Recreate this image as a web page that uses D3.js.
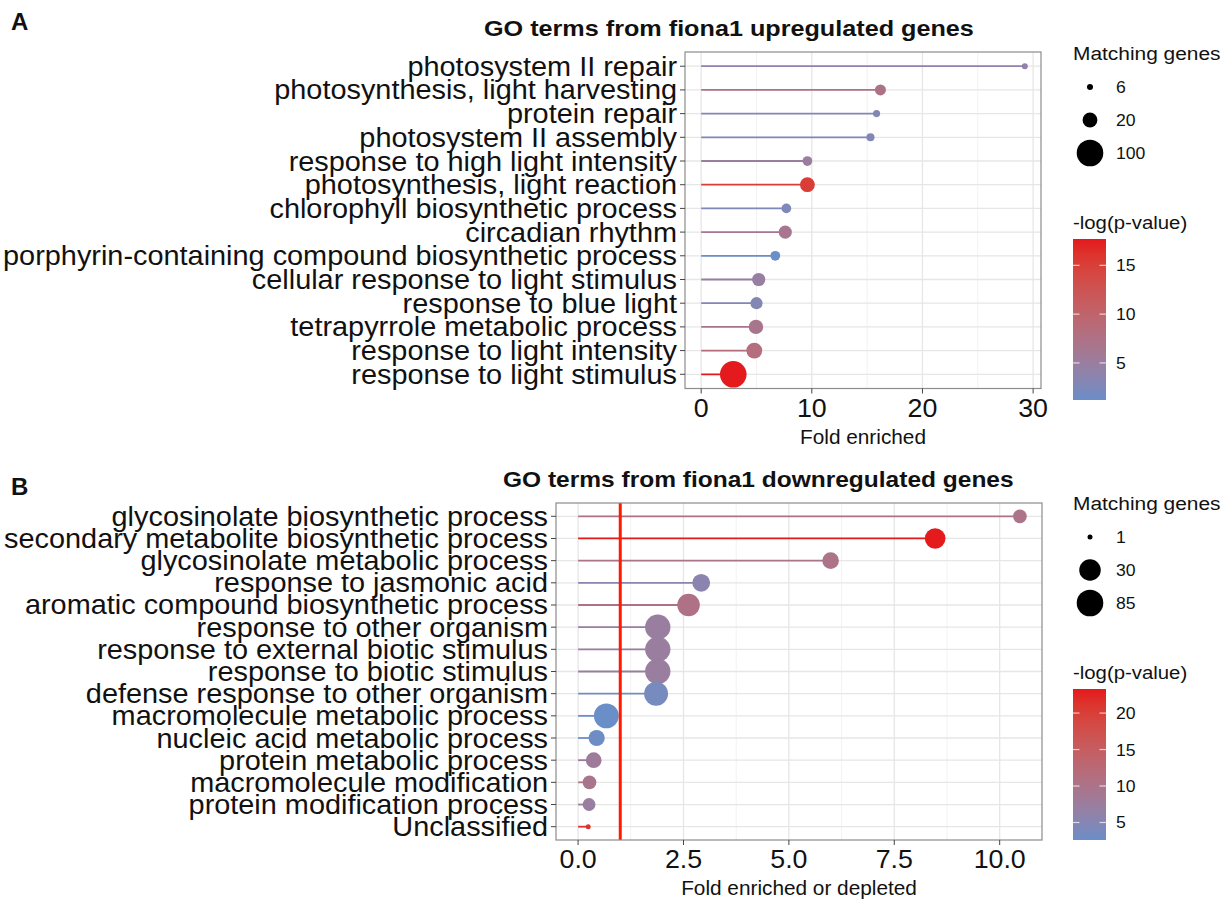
<!DOCTYPE html>
<html>
<head>
<meta charset="utf-8">
<script src="https://cdn.jsdelivr.net/npm/d3@7"></script>
<style>
  body { margin: 0; background: #fff; }
  text { font-family: "Liberation Sans", Arial, sans-serif; fill: #111; }
</style>
</head>
<body>
<div id="chart"></div>
<script>
// ---- panel A: upregulated ----
const upTerms = [
  'photosystem II repair',
  'photosynthesis, light harvesting',
  'protein repair',
  'photosystem II assembly',
  'response to high light intensity',
  'photosynthesis, light reaction',
  'chlorophyll biosynthetic process',
  'circadian rhythm',
  'porphyrin-containing compound biosynthetic process',
  'cellular response to light stimulus',
  'response to blue light',
  'tetrapyrrole metabolic process',
  'response to light intensity',
  'response to light stimulus',
];
const upFold = [29.25, 16.2, 15.85, 15.3, 9.6, 9.6, 7.7, 7.6, 6.7, 5.2, 5.0, 4.95, 4.8, 2.9];
const upGenes = [6, 12, 7, 8, 10, 20, 10, 16, 10, 16, 14, 19, 23, 100];
const upLogP = [4.0, 7.2, 2.8, 2.8, 5.0, 15.2, 2.5, 6.6, 1.2, 4.6, 3.0, 6.8, 8.2, 17.7];
const upXTicks = [0, 10, 20, 30];
const upSizeBreaks = [6, 20, 100];
const upColorBreaks = [5, 10, 15];

// ---- panel B: downregulated ----
const downTerms = [
  'glycosinolate biosynthetic process',
  'secondary metabolite biosynthetic process',
  'glycosinolate metabolic process',
  'response to jasmonic acid',
  'aromatic compound biosynthetic process',
  'response to other organism',
  'response to external biotic stimulus',
  'response to biotic stimulus',
  'defense response to other organism',
  'macromolecule metabolic process',
  'nucleic acid metabolic process',
  'protein metabolic process',
  'macromolecule modification',
  'protein modification process',
  'Unclassified',
];
const downFold = [10.48, 8.47, 5.99, 2.92, 2.62, 1.89, 1.89, 1.89, 1.85, 0.67, 0.44, 0.37, 0.27, 0.26, 0.24];
const downGenes = [6, 25, 11, 14, 37, 65, 65, 65, 49, 60, 10, 9, 6, 5, 1];
const downLogP = [10, 23.3, 10, 5.5, 10.5, 7.3, 7.3, 7.3, 3.6, 2.6, 3.0, 8, 9.5, 7.3, 21.2];
const downXTicks = [0, 2.5, 5, 7.5, 10];
const downSizeBreaks = [1, 30, 85];
const downColorBreaks = [5, 10, 15, 20];

const size = { width: 1231, height: 899 };
const lowCol = '#6a8ec8';
const highCol = '#e41a1c';

const svg = d3
  .select('#chart')
  .append('svg')
  .attr('width', size.width)
  .attr('height', size.height);

// glyphs in the source are a little wider than Liberation Sans, so stretch x
const addText = (g, x, y, str, fs, sx, anchor = 'start', weight = 'normal') =>
  g
    .append('text')
    .attr('transform', `translate(${x},${y}) scale(${sx},1)`)
    .attr('font-size', fs)
    .attr('font-weight', weight)
    .attr('text-anchor', anchor)
    .text(str);

const drawPanel = (cfg) => {
  const box = cfg.box;
  const data = cfg.terms.map((t, i) => ({
    term: t,
    fold: cfg.fold[i],
    genes: cfg.genes[i],
    logp: cfg.logp[i],
  }));
  const xMax = d3.max(cfg.fold);
  const x = d3
    .scaleLinear()
    .domain([-xMax * 0.05, xMax * 1.05])
    .range([box.left, box.right]);
  const y = d3
    .scalePoint()
    .domain(cfg.terms)
    .range([box.top, box.bottom])
    .padding(0.6);
  const r = d3.scaleLog().domain(cfg.sizeDomain).range(cfg.sizeRange);
  const cExt = d3.extent(cfg.logp);
  const col = d3
    .scaleLinear()
    .domain(cExt)
    .range([lowCol, highCol])
    .interpolate(d3.interpolateLab);

  const g = svg.append('g');

  // grid
  const step = cfg.xTicks[1] - cfg.xTicks[0];
  const minor = cfg.xTicks
    .map((d) => d + step / 2)
    .concat([cfg.xTicks[0] - step / 2])
    .filter((d) => x(d) > box.left && x(d) < box.right);
  g.selectAll('.minor')
    .data(minor)
    .enter()
    .append('line')
    .attr('x1', (d) => x(d))
    .attr('x2', (d) => x(d))
    .attr('y1', box.top)
    .attr('y2', box.bottom)
    .attr('stroke', '#f2f2f2')
    .attr('stroke-width', 1);
  g.selectAll('.major')
    .data(cfg.xTicks)
    .enter()
    .append('line')
    .attr('x1', (d) => x(d))
    .attr('x2', (d) => x(d))
    .attr('y1', box.top)
    .attr('y2', box.bottom)
    .attr('stroke', '#e6e6e6')
    .attr('stroke-width', 1.3);
  g.selectAll('.ygrid')
    .data(cfg.terms)
    .enter()
    .append('line')
    .attr('x1', box.left)
    .attr('x2', box.right)
    .attr('y1', (d) => y(d))
    .attr('y2', (d) => y(d))
    .attr('stroke', '#e6e6e6')
    .attr('stroke-width', 1.3);

  // lollipops
  g.selectAll('.seg')
    .data(data)
    .enter()
    .append('line')
    .attr('x1', x(0))
    .attr('x2', (d) => x(d.fold))
    .attr('y1', (d) => y(d.term))
    .attr('y2', (d) => y(d.term))
    .attr('stroke', (d) => col(d.logp))
    .attr('stroke-width', 1.8);
  g.selectAll('.dot')
    .data(data)
    .enter()
    .append('circle')
    .attr('cx', (d) => x(d.fold))
    .attr('cy', (d) => y(d.term))
    .attr('r', (d) => r(d.genes))
    .attr('fill', (d) => col(d.logp));

  if (cfg.vline !== undefined) {
    g.append('line')
      .attr('x1', x(cfg.vline))
      .attr('x2', x(cfg.vline))
      .attr('y1', box.top)
      .attr('y2', box.bottom)
      .attr('stroke', '#ff1a00')
      .attr('stroke-width', 3);
  }

  g.append('rect')
    .attr('x', box.left)
    .attr('y', box.top)
    .attr('width', box.right - box.left)
    .attr('height', box.bottom - box.top)
    .attr('fill', 'none')
    .attr('stroke', '#8c8c8c')
    .attr('stroke-width', 1.2);

  // axes
  cfg.xTicks.forEach((t) => {
    g.append('line')
      .attr('x1', x(t))
      .attr('x2', x(t))
      .attr('y1', box.bottom)
      .attr('y2', box.bottom + 5)
      .attr('stroke', '#444');
    addText(g, x(t), box.bottom + 28, cfg.xFmt(t), 25.5, 1.05, 'middle');
  });
  cfg.terms.forEach((t) => {
    g.append('line')
      .attr('x1', box.left - 5)
      .attr('x2', box.left)
      .attr('y1', y(t))
      .attr('y2', y(t))
      .attr('stroke', '#444');
    addText(g, box.left - 8, y(t) + 9.5, t, 27.5, 1.05, 'end');
  });
  addText(g, (box.left + box.right) / 2, box.bottom + 55, cfg.xTitle, 20, 1.04, 'middle');
  addText(g, cfg.titlePos[0], cfg.titlePos[1], cfg.title, 22.5, cfg.titleSx, 'start', 'bold');
  addText(g, 11, cfg.tagY, cfg.tag, 24, 1.0, 'start', 'bold');

  // size legend
  const lg = cfg.legend;
  addText(g, lg.x, lg.sizeTop, 'Matching genes', 19, 1.1);
  cfg.sizeBreaks.forEach((b, i) => {
    const cy = lg.sizeTop + 27 + i * 33;
    g.append('circle')
      .attr('cx', lg.x + 17)
      .attr('cy', cy)
      .attr('r', r(b))
      .attr('fill', '#000');
    addText(g, lg.x + 43, cy + 6, b, 16, 1.1);
  });

  // colour bar
  addText(g, lg.x, lg.barTop - 10, '-log(p-value)', 18.5, 1.1);
  const gradId = `grad-${cfg.tag}`;
  const grad = svg
    .append('defs')
    .append('linearGradient')
    .attr('id', gradId)
    .attr('x1', 0)
    .attr('x2', 0)
    .attr('y1', 1)
    .attr('y2', 0);
  d3.range(0, 1.01, 0.1).forEach((t) => {
    grad
      .append('stop')
      .attr('offset', t)
      .attr('stop-color', col(cExt[0] + t * (cExt[1] - cExt[0])));
  });
  const barW = 33;
  g.append('rect')
    .attr('x', lg.x)
    .attr('y', lg.barTop)
    .attr('width', barW)
    .attr('height', lg.barBottom - lg.barTop)
    .attr('fill', `url(#${gradId})`);
  const cy = d3.scaleLinear().domain(cExt).range([lg.barBottom, lg.barTop]);
  cfg.colorBreaks.forEach((b) => {
    [lg.x, lg.x + barW - 6.5].forEach((x0) => {
      g.append('line')
        .attr('x1', x0)
        .attr('x2', x0 + 6.5)
        .attr('y1', cy(b))
        .attr('y2', cy(b))
        .attr('stroke', '#fff')
        .attr('stroke-opacity', 0.7)
        .attr('stroke-width', 1.2);
    });
    addText(g, lg.x + 43, cy(b) + 6, b, 16, 1.1);
  });
};

drawPanel({
  terms: upTerms,
  fold: upFold,
  genes: upGenes,
  logp: upLogP,
  xTicks: upXTicks,
  xFmt: (d) => d3.format('d')(d),
  sizeDomain: [6, 100],
  sizeRange: [3, 13.3],
  sizeBreaks: upSizeBreaks,
  colorBreaks: upColorBreaks,
  box: { left: 685, right: 1041, top: 52, bottom: 388.5 },
  xTitle: 'Fold enriched',
  title: 'GO terms from fiona1 upregulated genes',
  titlePos: [484, 36],
  titleSx: 1.12,
  tag: 'A',
  tagY: 30,
  legend: { x: 1073, sizeTop: 60, barTop: 239, barBottom: 400 },
});

drawPanel({
  terms: downTerms,
  fold: downFold,
  genes: downGenes,
  logp: downLogP,
  xTicks: downXTicks,
  xFmt: (d) => d3.format('.1f')(d),
  sizeDomain: [1, 85],
  sizeRange: [2.5, 13.3],
  sizeBreaks: downSizeBreaks,
  colorBreaks: downColorBreaks,
  vline: 1,
  box: { left: 556, right: 1042, top: 503, bottom: 840 },
  xTitle: 'Fold enriched or depleted',
  title: 'GO terms from fiona1 downregulated genes',
  titlePos: [503, 487],
  titleSx: 1.09,
  tag: 'B',
  tagY: 495,
  legend: { x: 1073, sizeTop: 510, barTop: 689, barBottom: 840 },
});
</script>
</body>
</html>
